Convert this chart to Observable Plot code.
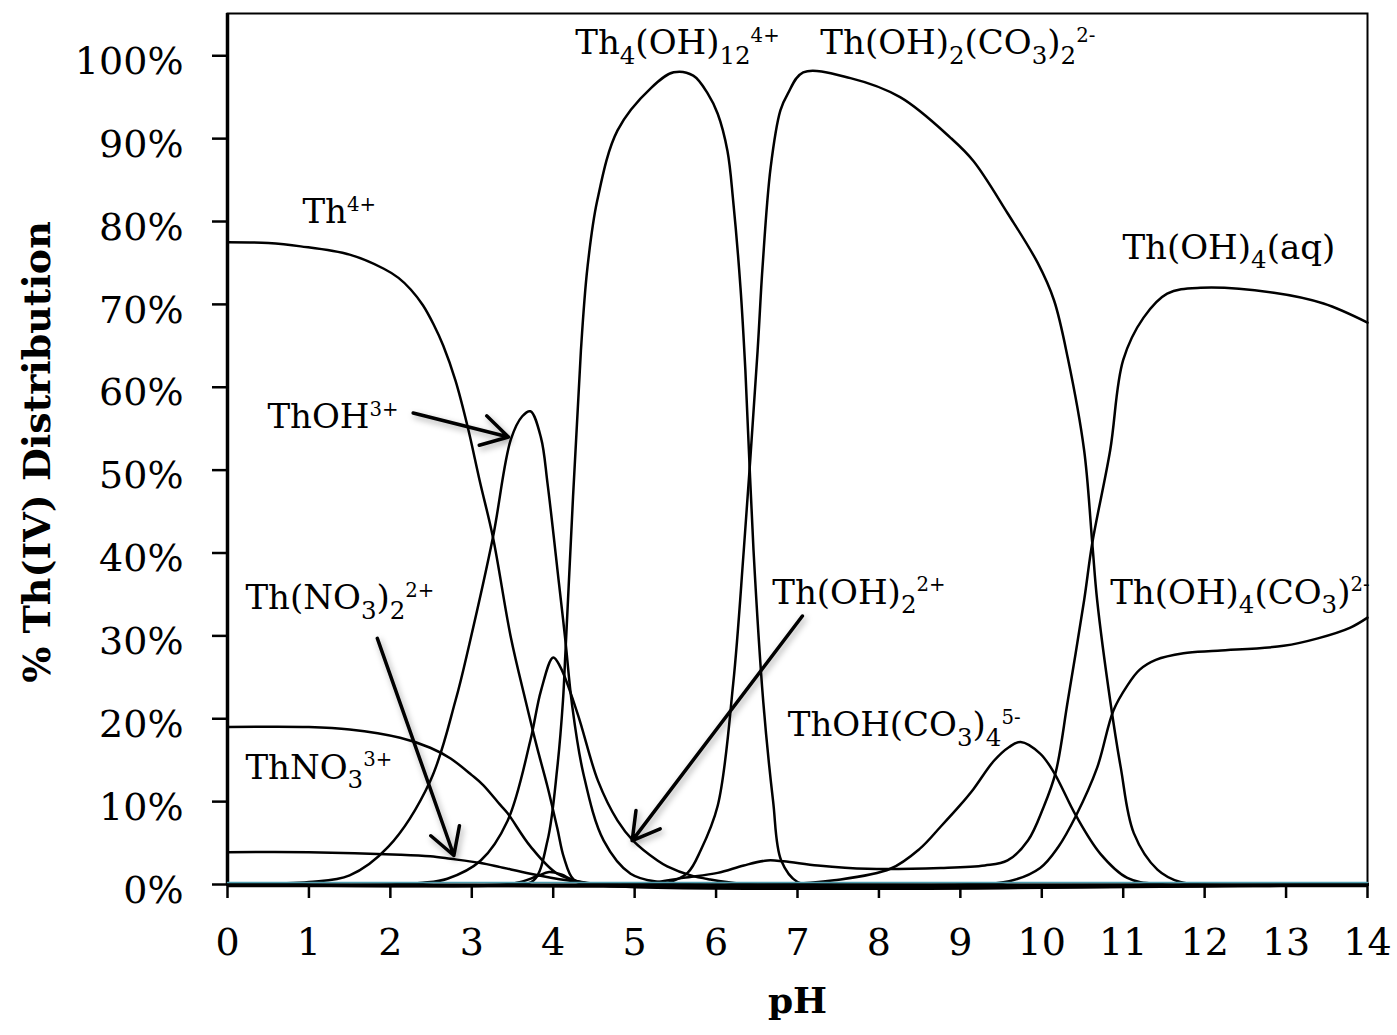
<!DOCTYPE html>
<html>
<head>
<meta charset="utf-8">
<script src="https://cdn.jsdelivr.net/npm/d3@7"></script>
<script src="https://cdn.jsdelivr.net/npm/@observablehq/plot@0.6"></script>
<style>
  body { margin: 0; background: #fff; }
  #chart svg { display: block; }
</style>
</head>
<body>
<div id="chart"></div>
<script>
// Th(IV) speciation vs pH — [pH, % of total Th(IV)]
const th4 = [[0,77.5],[0.5,77.4],[0.9,77.0],[1.5,76.0],[1.92,74.3],[2.1,73.2],[2.25,71.8],[2.4,69.9],[2.53,67.6],[2.65,65.0],[2.8,60.8],[2.95,55.2],[3.1,48.6],[3.26,41.9],[3.48,29.8],[3.66,22.2],[3.8,16.6],[3.93,11.8],[4.05,6.8],[4.13,3.3],[4.25,0.6],[4.45,0],[14,0]];
const thOH = [[0,0],[1,0.3],[1.5,1.1],[1.97,4.5],[2.49,12.5],[2.8,22.2],[2.97,29.0],[3.26,41.9],[3.48,53.7],[3.62,56.5],[3.72,57.1],[3.85,53.9],[3.93,48.4],[4.07,36.4],[4.15,29.4],[4.23,21.8],[4.37,13.4],[4.62,5.3],[4.95,1.3],[5.3,0.3],[5.8,0],[14,0]];
const thNO3 = [[0,19.0],[1,19.0],[1.5,18.7],[2.12,17.7],[2.49,16.5],[2.74,15.2],[3.0,13.2],[3.14,12.0],[3.35,9.6],[3.44,8.6],[3.72,4.6],[4.05,1.3],[4.4,0.2],[4.8,0],[14,0]];
const thNO3_2 = [[0,3.9],[1,3.9],[2.12,3.6],[2.49,3.4],[2.74,3.1],[3.11,2.6],[3.35,2.1],[3.72,1.3],[4.17,0.5],[4.6,0],[14,0]];
const thMinor = [[0,0],[3.4,0],[3.6,0.3],[3.8,1.0],[3.95,1.5],[4.1,1.2],[4.25,0.5],[4.5,0],[14,0]];
const thOH2 = [[0,0],[2.0,0],[2.4,0.2],[2.7,0.7],[3.11,2.9],[3.44,7.7],[3.72,17.4],[3.85,23.4],[4.0,27.4],[4.09,26.2],[4.3,20.6],[4.55,12.5],[4.79,7.7],[4.98,5.3],[5.28,2.9],[5.4,2.2],[5.69,1.1],[5.93,0.6],[6.3,0.1],[6.6,0],[14,0]];
const th4OH12 = [[0,0],[3.5,0],[3.76,0.5],[3.93,5.3],[4.05,14.1],[4.12,22.2],[4.15,28.0],[4.34,64.4],[4.42,74.4],[4.54,82.5],[4.79,91.0],[5.2,96.1],[5.48,98.0],[5.72,97.6],[5.9,95.4],[6.02,93.0],[6.14,88.5],[6.21,82.5],[6.3,72.0],[6.36,62.0],[6.46,40.3],[6.58,22.0],[6.7,10.1],[6.8,2.9],[7.0,0.3],[7.2,0],[14,0]];
const thOH2CO3_2 = [[0,0],[5.2,0],[5.4,0.2],[5.65,1.4],[5.81,4.1],[6.02,9.5],[6.21,24.2],[6.34,40.3],[6.51,64.4],[6.57,74.4],[6.67,86.5],[6.79,93.4],[6.88,95.4],[7.07,98.0],[7.65,97.3],[8.26,95.0],[8.88,90.1],[9.16,87.3],[9.58,81.0],[9.95,75.0],[10.15,70.5],[10.32,63.5],[10.52,52.4],[10.62,41.2],[10.68,34.3],[10.84,22.2],[10.97,14.1],[11.13,6.2],[11.42,1.8],[11.7,0.3],[12,0],[14,0]];
const thOH4aq = [[0,0],[4.8,0],[5.2,0.2],[5.6,0.8],[6.02,1.4],[6.34,2.3],[6.63,2.9],[6.83,2.8],[7.25,2.3],[7.86,1.9],[8.76,2.0],[9.3,2.3],[9.58,2.9],[9.83,5.3],[10.02,9.3],[10.17,13.5],[10.32,22.2],[10.52,34.3],[10.62,41.2],[10.84,52.4],[11.0,63.3],[11.25,68.4],[11.54,71.3],[11.95,72.0],[12.85,71.4],[13.46,70.1],[14,67.8]];
const thOHCO3_4 = [[0,0],[6.8,0],[7.45,0.5],[8.14,1.9],[8.5,4.3],[8.76,7.0],[9.0,9.6],[9.16,11.5],[9.41,14.9],[9.6,16.6],[9.74,17.2],[9.98,15.8],[10.15,13.5],[10.42,8.3],[10.72,3.7],[11.05,0.8],[11.5,0],[14,0]];
const thOH4CO3 = [[0,0],[9.0,0],[9.6,0.4],[9.98,2.0],[10.2,4.5],[10.42,8.3],[10.68,14.1],[10.88,21.0],[11.05,24.0],[11.2,25.9],[11.4,27.1],[11.74,27.9],[12.16,28.2],[12.97,28.8],[13.39,29.7],[13.79,31.0],[14,32.2]];
const zeroSeries = [[0,0],[14,0]];

const speciesNames = ["Th4+","ThOH3+","ThNO3 3+","Th(NO3)2 2+","minor","Th(OH)2 2+","Th4(OH)12 4+","Th(OH)2(CO3)2 2-","Th(OH)4(aq)","ThOH(CO3)4 5-","Th(OH)4(CO3) 2-"];
const speciesValues = [th4, thOH, thNO3, thNO3_2, thMinor, thOH2, th4OH12, thOH2CO3_2, thOH4aq, thOHCO3_4, thOH4CO3];

// Axis ticks
const xTicks = d3.range(0, 15);
const yTicks = d3.range(0, 101, 10);

// Species labels: _{..} subscript, ^{..} superscript; anchored at [pH, %]
const labelText = ["Th^{4+}","Th_{4}(OH)_{12}^{4+}","Th(OH)_{2}(CO_{3})_{2}^{2-}","Th(OH)_{4}(aq)","ThOH^{3+}","Th(NO_{3})_{2}^{2+}","ThNO_{3}^{3+}","Th(OH)_{2}^{2+}","ThOH(CO_{3})_{4}^{5-}","Th(OH)_{4}(CO_{3})^{2-}"];
const labelPH  = [0.92, 4.27, 7.28, 10.99, 0.49, 0.22, 0.22, 6.69, 6.88, 10.84];
const labelPct = [81.1, 101.5, 101.5, 76.8, 56.4, 34.5, 14.1, 35.2, 19.2, 35.2];

// Pointer arrows: from [pH1, %1] to [pH2, %2]
const arrowFrom = [[2.28, 56.9], [1.84, 29.7], [7.06, 32.4]];
const arrowTo   = [[3.45, 54.0], [2.78, 3.5], [4.97, 5.3]];

const rows = speciesNames.flatMap((name, i) => speciesValues[i].map(([pH, pct]) => ({name, pH, pct})));
const labels = labelText.map((text, i) => ({text, pH: labelPH[i], pct: labelPct[i]}));
const arrows = arrowFrom.map((f, i) => ({x1: f[0], y1: f[1], x2: arrowTo[i][0], y2: arrowTo[i][1]}));

const LABEL_SIZE = 34;

const chart = Plot.plot({
  width: 1397,
  height: 1035,
  marginLeft: 227,
  marginRight: 30,
  marginTop: 13,
  marginBottom: 151,
  style: {fontFamily: "'DejaVu Serif', serif", fontSize: "38px", color: "#000", background: "#fff", overflow: "visible"},
  x: {domain: [0, 14]},
  y: {domain: [0, 105.1]},
  marks: [
    Plot.frame({stroke: "#000", strokeWidth: 2}),
    Plot.line(rows, {x: "pH", y: "pct", z: "name", curve: "catmull-rom", stroke: "#000", strokeWidth: 2.5}),
    Plot.ruleX([0], {stroke: "#000", strokeWidth: 3.5}),
    Plot.ruleY([0], {stroke: "#000", strokeWidth: 3.5, dy: 1}),
    Plot.line(zeroSeries, {x: d => d[0], y: d => d[1], stroke: "#4f9fb0", strokeWidth: 1.4, dy: -2}),
    Plot.axisY({ticks: yTicks, tickSize: 15, tickPadding: 29, tickFormat: d => d + "%", strokeWidth: 2.5, label: null}),
    Plot.axisX({ticks: xTicks, tickSize: 14, tickPadding: 30, strokeWidth: 2.5, label: null}),
    Plot.text(["% Th(IV) Distribution"], {frameAnchor: "left", textAnchor: "middle", rotate: -90, dx: -190, dy: 3, fontWeight: "bold", fontSize: 38}),
    Plot.text(["pH"], {frameAnchor: "bottom", dy: 128, fontWeight: "bold", fontSize: 36}),
    Plot.arrow(arrows, {x1: "x1", y1: "y1", x2: "x2", y2: "y2", stroke: "#000", strokeWidth: 3.5, headLength: 13, headAngle: 60}),
    Plot.text(labels, {x: "pH", y: "pct", text: "text", textAnchor: "start", lineAnchor: "middle", fontSize: LABEL_SIZE})
  ]
});

// nudge y tick labels slightly below their ticks
chart.querySelectorAll('g[aria-label="y-axis tick label"]').forEach(g => {
  g.setAttribute("transform", `translate(0,6) ${g.getAttribute("transform") || ""}`);
});

// soft shadow under the pointer arrows
chart.querySelectorAll('g[aria-label="arrow"]').forEach(g => {
  g.style.filter = "drop-shadow(2px 3px 3px rgba(0,0,0,0.35))";
});

// chemical formula markup -> tspans with subscripts and superscripts
chart.querySelectorAll("text").forEach(el => {
  const src = el.textContent;
  if (!/[_^]\{/.test(src)) return;
  el.textContent = "";
  const parts = src.split(/([_^]\{[^}]*\})/).filter(Boolean);
  let shift = 0;
  for (const part of parts) {
    const t = document.createElementNS("http://www.w3.org/2000/svg", "tspan");
    let target = 0, size = LABEL_SIZE, str = part;
    if (part.startsWith("_{")) { target = LABEL_SIZE * 0.28; size = LABEL_SIZE * 0.72; str = part.slice(2, -1); }
    else if (part.startsWith("^{")) { target = -LABEL_SIZE * 0.36; size = LABEL_SIZE * 0.58; str = part.slice(2, -1); }
    t.setAttribute("dy", (target - shift).toFixed(2));
    t.setAttribute("font-size", size.toFixed(1));
    t.textContent = str;
    shift = target;
    el.appendChild(t);
  }
});

document.getElementById("chart").appendChild(chart);
</script>
</body>
</html>
